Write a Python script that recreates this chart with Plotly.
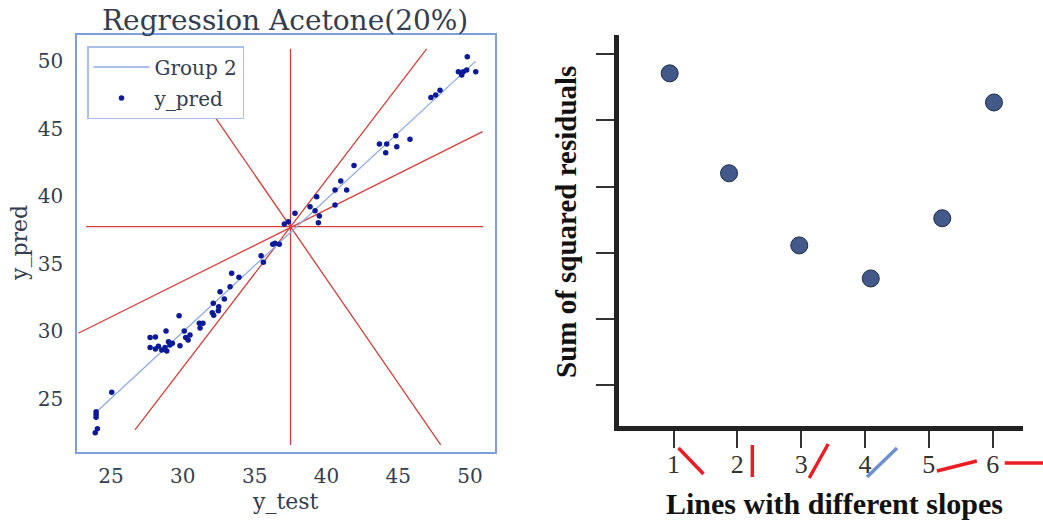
import numpy as np
import plotly.graph_objects as go

W, H = 1043, 527

# ---- left panel: predicted vs. measured acetone values ----
y_test = [23.96, 23.96, 23.96, 24.05, 23.90, 25.05,
          27.72, 28.09, 28.83, 29.74, 27.72, 28.09, 28.53, 28.76, 28.88, 29.00,
          29.27, 29.80, 30.10, 30.20, 30.50, 30.37, 28.30, 29.10,
          31.15, 31.40, 31.20,
          32.12, 32.50, 32.47, 32.05, 32.15,
          32.59, 32.89, 33.29, 33.40, 33.91,
          35.45, 35.61, 36.26, 36.42, 36.72,
          37.07, 37.35, 37.81,
          38.86, 39.21, 39.32, 39.44, 39.51, 40.60,
          40.60, 41.00, 41.41, 41.92,
          43.69, 44.20, 44.13, 44.83, 44.90, 45.82,
          47.28, 47.61, 47.91,
          49.81, 49.19, 49.42, 49.53, 49.77, 50.40]
y_pred = [24.05, 23.85, 23.65, 22.80, 22.50, 25.50,
          29.54, 29.59, 30.03, 31.16, 28.80, 28.70, 28.62, 28.80, 28.55, 29.24,
          29.12, 28.94, 30.03, 29.54, 29.74, 29.37, 28.90, 29.00,
          30.60, 30.60, 30.25,
          32.08, 31.83, 31.53, 31.38, 31.20,
          32.94, 32.40, 33.31, 34.30, 34.00,
          35.60, 35.11, 36.44, 36.52, 36.44,
          37.94, 38.11, 38.73,
          39.22, 38.93, 39.96, 38.04, 38.54, 39.35,
          40.46, 41.12, 40.46, 42.26,
          43.86, 43.86, 43.22, 44.47, 43.66, 44.21,
          47.29, 47.49, 47.83,
          50.32, 49.21, 48.96, 49.21, 49.33, 49.21]

# reference lines of different slope drawn through the pivot point
ref_x0 = [30.52, 37.50, 26.67, 22.72, 23.26]
ref_y0 = [48.50, 21.60, 22.71, 29.86, 37.75]
ref_x1 = [47.96, 37.50, 46.98, 50.88, 50.90]
ref_y1 = [21.60, 50.90, 50.89, 44.77, 37.75]

# ---- right panel: sum of squared residuals per candidate line ----
line_pos = [0.94, 1.87, 2.97, 4.09, 5.21, 6.02]
ssr = [5.71, 4.20, 3.11, 2.61, 3.52, 5.27]
line_labels = ["1", "2", "3", "4", "5", "6"]

TXT = "#333d4f"
SERIF_L = "DejaVu Serif"
SERIF_R = "Liberation Serif"
RED = "#d6403c"

fig = go.Figure()

for i in range(len(ref_x0)):
    fig.add_trace(go.Scatter(
        x=[ref_x0[i], ref_x1[i]], y=[ref_y0[i], ref_y1[i]], mode="lines",
        line=dict(color=RED, width=1.3), showlegend=False, hoverinfo="skip",
        xaxis="x", yaxis="y"))

coef = np.polyfit(y_test, y_pred, 1)
fx = np.array([min(y_test), max(y_test)])
fig.add_trace(go.Scatter(
    x=fx, y=np.polyval(coef, fx), mode="lines", name="Group 2",
    line=dict(color="#8eabe2", width=1.3), legendgroup="a",
    xaxis="x", yaxis="y"))
fig.add_trace(go.Scatter(
    x=y_test, y=y_pred, mode="markers", name="y_pred", legendgroup="b",
    marker=dict(color="#0a1a98", size=5.5, line=dict(width=0)),
    xaxis="x", yaxis="y"))

fig.add_trace(go.Scatter(
    x=line_pos, y=ssr, mode="markers", showlegend=False,
    marker=dict(color="#42598a", size=17, line=dict(color="#1c2a45", width=1)),
    xaxis="x2", yaxis="y2"))

dom_l_x = [77 / W, 495 / W]
dom_l_y = [1 - 452 / H, 1 - 35 / H]
dom_r_x = [619 / W, 1023 / W]
dom_r_y = [1 - 426 / H, 1 - 35 / H]
rx2 = [0.146, 6.475]
ry2 = [0.38, 6.29]

axis_l = dict(showgrid=False, zeroline=False, showline=True, mirror=True,
              linecolor="#7d9fdc", linewidth=1.5, ticks="",
              tickfont=dict(family=SERIF_L, size=20, color=TXT))

fig.update_layout(
    width=W, height=H, margin=dict(l=0, r=0, t=0, b=0),
    paper_bgcolor="white", plot_bgcolor="white",
    xaxis=dict(axis_l, domain=dom_l_x, range=[22.63, 51.74],
               tickvals=[25, 30, 35, 40, 45, 50], ticklabelstandoff=5),
    yaxis=dict(axis_l, domain=dom_l_y, range=[21.08, 51.92],
               tickvals=[25, 30, 35, 40, 45, 50], ticklabelstandoff=8),
    xaxis2=dict(domain=dom_r_x, range=rx2, anchor="y2", showgrid=False,
                zeroline=False, showline=True, linecolor="#222222", linewidth=5,
                ticks="outside", ticklen=17, tickwidth=1.5, tickcolor="#333333",
                tickvals=[1, 2, 3, 4, 5, 6], ticktext=line_labels,
                ticklabelstandoff=-6,
                tickfont=dict(family=SERIF_R, size=26, color="#333333")),
    yaxis2=dict(domain=dom_r_y, range=ry2, anchor="x2", showgrid=False,
                zeroline=False, showline=True, linecolor="#222222", linewidth=5,
                ticks="outside", ticklen=18, tickwidth=1.5, tickcolor="#333333",
                tickvals=[1, 2, 3, 4, 5, 6], showticklabels=False),
    legend=dict(x=87 / W, y=1 - 46 / H, xanchor="left", yanchor="top",
                bgcolor="white", bordercolor="#a9bfe9", borderwidth=1.5,
                font=dict(family=SERIF_L, size=20, color=TXT),
                traceorder="grouped", tracegroupgap=2, itemwidth=56),
    showlegend=True,
)

ann = [
    dict(text="Regression Acetone(20%)", x=285 / W, y=1 - 20 / H,
         font=dict(family=SERIF_L, size=28, color=TXT)),
    dict(text="y_test", x=285 / W, y=1 - 501 / H,
         font=dict(family=SERIF_L, size=22, color=TXT)),
    dict(text="y_pred", x=19 / W, y=1 - 243 / H, textangle=-90,
         font=dict(family=SERIF_L, size=22, color=TXT)),
    dict(text="<b>Sum of squared residuals</b>", x=566 / W, y=1 - 222 / H,
         textangle=-90, font=dict(family=SERIF_R, size=29, color="#111111")),
    dict(text="<b>Lines with different slopes</b>", x=834 / W, y=1 - 503 / H,
         font=dict(family=SERIF_R, size=30, color="#111111")),
]
for a in ann:
    a.update(xref="paper", yref="paper", showarrow=False,
             xanchor="center", yanchor="middle")
fig.update_layout(annotations=ann)


# small slope icons beside each tick label (pixel offsets from the tick)
def tick_px(v):
    return W * (dom_r_x[0] + (v - rx2[0]) / (rx2[1] - rx2[0]) * (dom_r_x[1] - dom_r_x[0]))


icons = [
    (5, 448, 30, 474, "#ec1c24"),
    (15, 445, 15, 477, "#ec1c24"),
    (8, 478, 27, 444, "#ec1c24"),
    (2, 477, 32, 448, "#6f8fd3"),
    (8, 471, 48, 461, "#ec1c24"),
    (12, 463, 70, 463, "#ec1c24"),
]
for k, (dx0, py0, dx1, py1, col) in enumerate(icons):
    t = tick_px(k + 1)
    fig.add_shape(type="line", xref="paper", yref="paper",
                  x0=(t + dx0) / W, y0=1 - py0 / H, x1=(t + dx1) / W, y1=1 - py1 / H,
                  line=dict(color=col, width=3.5))

fig.write_html("out.html")
